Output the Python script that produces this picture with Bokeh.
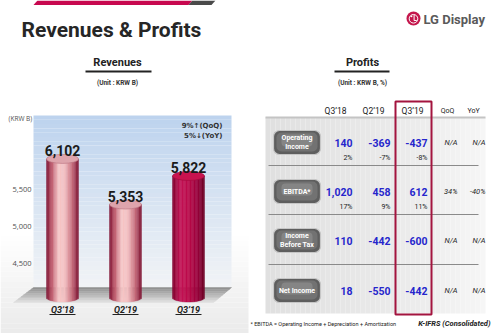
import numpy as np
from bokeh.plotting import figure
from bokeh.models import Range1d, ColumnDataSource
from bokeh.core.properties import value
from bokeh.embed import file_html
from bokeh.resources import INLINE

# ---------------- data ----------------
quarters = ["Q3\u201918", "Q2\u201919", "Q3\u201919"]
revenues = [6102, 5353, 5822]
rev_ticks = [4500, 5000, 5500]
rev_notes = ["9%\u2191(QoQ)", "5%\u2193(YoY)"]
rev_unit = "(KRW B)"

col_labels = ["Q3\u201918", "Q2\u201919", "Q3\u201919", "QoQ", "YoY"]
metric_labels = ["Operating\nIncome", "EBITDA*", "Income\nBefore Tax", "Net Income"]
val_q318 = [140, 1020, 110, 18]
val_q219 = [-369, 458, -442, -550]
val_q319 = [-437, 612, -600, -442]
margin_q318 = [2, 17]     # Operating Income, EBITDA margins (%)
margin_q219 = [-7, 9]
margin_q319 = [-8, 11]
qoq = ["N/A", "34%", "N/A", "N/A"]
yoy = ["N/A", "-40%", "N/A", "N/A"]

# ---------------- helpers ----------------
def hex2rgb(h):
    h = h.lstrip("#")
    return [int(h[i:i + 2], 16) for i in (0, 2, 4)]

def lerp(stops, t):
    for (p0, c0), (p1, c1) in zip(stops[:-1], stops[1:]):
        if p0 <= t <= p1:
            f = 0 if p1 == p0 else (t - p0) / (p1 - p0)
            a, b = hex2rgb(c0), hex2rgb(c1)
            return "#%02x%02x%02x" % tuple(int(round(a[j] + (b[j] - a[j]) * f)) for j in range(3))
    return stops[-1][1]

FONT = value("Roboto")
FONT2 = value("Open Sans")

p = figure(width=500, height=333, x_range=Range1d(0, 500), y_range=Range1d(333, 0),
           output_backend="svg", toolbar_location=None, min_border=0,
           x_axis_type=None, y_axis_type=None)
p.grid.visible = False
p.outline_line_color = None
p.background_fill_color = "white"
p.border_fill_color = "white"

# extra scales for the bar chart
p.extra_x_ranges = {"bx": Range1d(-62 / 63, 438 / 63)}
p.extra_y_ranges = {"by": Range1d(3235, 8703), "wall": Range1d(3554, 8054)}

# ---------------- slide decoration ----------------
ys = np.linspace(230, 333, 21)
p.quad(left=0, right=248, top=ys[:-1], bottom=ys[1:],
       fill_color=[lerp([(0, "#ffffff"), (1, "#ebebeb")], t) for t in np.linspace(0, 1, 20)],
       line_color=None)

p.patch([37, 192, 188, 33], [0, 0, 4.5, 4.5], fill_color="#c7084f", line_color=None)
p.patch([192, 215, 211, 188], [0, 0, 4.5, 4.5], fill_color="#4a4a4a", line_color=None)

p.text(x=[21], y=[29], text=["Revenues & Profits"], text_font=FONT, text_font_style="bold",
       text_font_size="21px", text_color="#262626", text_baseline="middle", text_align="left")

# LG logo
p.circle(x=[413], y=[18], radius=7, fill_color="#c4164c", line_color=None)
p.circle(x=[413], y=[18.3], radius=4.3, fill_color=None, line_color="white", line_width=1)
p.circle(x=[411], y=[15.8], radius=0.9, fill_color="white", line_color=None)
p.segment(x0=[413.6], y0=[14.5], x1=[413.6], y1=[20], line_color="white", line_width=1)
p.segment(x0=[413.6], y0=[20], x1=[416.3], y1=[20], line_color="white", line_width=1)
p.text(x=[423], y=[19], text=["LG Display"], text_font=FONT, text_font_style="bold",
       text_font_size="13px", text_color="#5a5a5a", text_baseline="middle")

# section headings
for cx, title, unit, x0, x1 in [(117, "Revenues", "(Unit : KRW B)", 85, 151),
                                (362, "Profits", "(Unit : KRW B, %)", 334, 389)]:
    p.text(x=[cx], y=[62], text=[title], text_font=FONT, text_font_style="bold",
           text_font_size="11px", text_color="#222222", text_align="center", text_baseline="middle")
    p.segment(x0=[x0], y0=[71], x1=[x1], y1=[71], line_color="#222222", line_width=2)
    p.text(x=[cx], y=[82], text=[unit], text_font=FONT, text_font_style="bold",
           text_font_size="6.5px", text_color="#333333", text_align="center", text_baseline="middle")

# ---------------- revenue chart ----------------
ys = np.linspace(115, 287, 41)
p.quad(left=33, right=231, top=ys[:-1], bottom=ys[1:],
       fill_color=[lerp([(0, "#bdd3ee"), (0.6, "#dde7f3"), (1, "#f1f3f6")], t) for t in np.linspace(0, 1, 40)],
       line_color=None)
# floor
fy = np.linspace(287, 302, 9)
xs, yss, fc = [], [], []
for j in range(8):
    ya, yb = fy[j], fy[j + 1]
    fa, fb = (ya - 287) / 15, (yb - 287) / 15
    xs.append([33 - 20 * fa, 231 - 18 * fa, 231 - 18 * fb, 33 - 20 * fb])
    yss.append([ya, ya, yb, yb])
    fc.append(lerp([(0, "#8c8c8c"), (0.7, "#c8c8c8"), (1, "#e2e2e2")], (j + 0.5) / 8))
p.patches(xs, yss, fill_color=fc, line_color=fc, line_width=0.5)

# wall tick labels
p.text(x=[31] * len(rev_ticks), y=rev_ticks, text=[f"{t:,}" for t in rev_ticks], y_range_name="wall",
       text_font=FONT2, text_font_size="7.5px", text_color="#505050", text_align="right",
       text_baseline="middle")
p.text(x=[8], y=[118], text=[rev_unit], text_font=FONT2, text_font_size="6.5px",
       text_color="#505050", text_baseline="middle")
p.text(x=[222] * 2, y=[125, 135], text=rev_notes, text_font=value("DejaVu Sans"), text_font_style="bold",
       text_font_size="7px", text_color="#333333", text_align="right", text_baseline="middle")

# cylinders
BASE = 3826
N = 24
half_w = 16 / 63
e_val = 74
pink = [(0, "#7a1232"), (0.15, "#b84e62"), (0.38, "#f7c8c8"), (0.58, "#f4c0c2"), (0.82, "#c46677"), (1, "#7c1231")]
crimson = [(0, "#7e002c"), (0.25, "#c41456"), (0.5, "#bc0a4a"), (0.8, "#98003a"), (1, "#6a0024")]
L, R, T, B, C = [], [], [], [], []
for i, v in enumerate(revenues):
    stops = crimson if i == len(revenues) - 1 else pink
    for k in range(N):
        u0 = -1 + 2 * k / N
        u1 = -1 + 2 * (k + 1) / N
        um = (u0 + u1) / 2
        L.append(i + u0 * half_w)
        R.append(i + u1 * half_w)
        T.append(v)
        B.append(BASE - e_val * np.sqrt(max(0.0, 1 - um * um)))
        C.append(lerp(stops, (um + 1) / 2))
src = ColumnDataSource(dict(l=L, r=R, t=T, b=B, c=C))
p.quad(left="l", right="r", top="t", bottom="b", fill_color="c", line_color="c", line_width=0.4,
       source=src, x_range_name="bx", y_range_name="by")
idx = list(range(len(revenues)))
top_col = ["#dea4ac" if i < len(revenues) - 1 else "#c8134f" for i in idx]
top_line = ["#b8707e" if i < len(revenues) - 1 else "#a00a3e" for i in idx]
p.ellipse(x=idx, y=revenues, width=2 * half_w, height=2 * e_val, fill_color=top_col,
          line_color=top_line, line_width=0.6, x_range_name="bx", y_range_name="by")
p.text(x=idx, y=revenues, text=[f"{v:,}" for v in revenues], x_range_name="bx", y_range_name="by",
       y_offset=-3, text_font=FONT, text_font_style="bold", text_font_size="14px",
       text_color="#1a1a1a", text_align="center", text_baseline="bottom")
# category labels
p.text(x=idx, y=[309] * 3, text=quarters, x_range_name="bx", text_font=FONT,
       text_font_style="bold italic", text_font_size="9px", text_color="#222222",
       text_align="center", text_baseline="middle")
p.segment(x0=[i - 13 / 63 for i in idx], y0=[314] * 3, x1=[i + 13 / 63 for i in idx], y1=[314] * 3,
          x_range_name="bx", line_color="#222222", line_width=1)

# ---------------- profits table ----------------
xs = np.linspace(265, 485, 45)
p.quad(left=xs[:-1], right=xs[1:], top=117, bottom=313,
       fill_color=[lerp([(0, "#e0e0e0"), (0.7, "#ececec"), (1, "#f6f6f6")], t) for t in np.linspace(0, 1, 44)],
       line_color=None)
p.segment(x0=[265], y0=[117], x1=[485], y1=[117], line_color="#c4c4c4", line_width=2)
p.segment(x0=[268] * 3, y0=[165, 214, 264], x1=[478] * 3, y1=[165, 214, 264],
          line_color="#8a8a8a", line_width=1)

hdr_x = [335, 373, 412, 447, 473]
hdr_size = ["8.5px", "8.5px", "8.5px", "7px", "7px"]
for hx, lab, fs in zip(hdr_x, col_labels, hdr_size):
    p.text(x=[hx], y=[110], text=[lab], text_font=FONT, text_font_size=fs, text_color="#222222",
           text_align="center", text_baseline="middle")

row_y = [142, 191, 240, 290]
# buttons
p.quad(left=273, right=320, top=[y - 12 for y in row_y], bottom=[y + 12 for y in row_y],
       border_radius=6, fill_color="#5e5e5e", line_color="#c6c6c6", line_width=1.2)
p.quad(left=276, right=317, top=[y - 10 for y in row_y], bottom=[y + 9 for y in row_y],
       border_radius=5, fill_color="#727272", line_color=None)
p.quad(left=281, right=312, top=[y - 8 for y in row_y], bottom=[y + 4 for y in row_y],
       border_radius=4, fill_color="#858585", line_color=None)
p.text(x=[296.5] * 4, y=row_y, text=metric_labels, text_font=FONT, text_font_style="bold",
       text_font_size="7px", text_color="white", text_align="center", text_baseline="middle",
       text_line_height=1.15)

val_right = [352, 390, 427]
for xr, vals, margins in zip(val_right, [val_q318, val_q219, val_q319],
                             [margin_q318, margin_q219, margin_q319]):
    p.text(x=[xr] * 4, y=row_y, text=[f"{v:,}" for v in vals], text_font=FONT,
           text_font_style="bold", text_font_size="10.5px", text_color="#2626cc",
           text_align="right", text_baseline="middle")
    p.text(x=[xr] * 2, y=[y + 15 for y in row_y[:2]], text=[f"{m}%" for m in margins],
           text_font=FONT, text_font_size="7px", text_color="#222222",
           text_align="right", text_baseline="middle")
for xr, vals in zip([457, 485], [qoq, yoy]):
    p.text(x=[xr] * 4, y=row_y, text=vals, text_font=FONT, text_font_style="italic",
           text_font_size="7.5px", text_color="#222222", text_align="right", text_baseline="middle")

# highlight box for current quarter
p.quad(left=[395], right=[431], top=[101], bottom=[314], fill_color=None,
       line_color="#a3143f", line_width=2)

# footnotes
p.text(x=[250], y=[323], text=["* EBITDA = Operating Income + Depreciation + Amortization"],
       text_font=FONT, text_font_size="5.5px", text_color="#222222", text_baseline="middle")
p.text(x=[490], y=[323], text=["K-IFRS (Consolidated)"], text_font=FONT,
       text_font_style="bold italic", text_font_size="7.5px", text_color="#222222",
       text_align="right", text_baseline="middle")

open("out.html", "w").write(file_html(p, INLINE))
